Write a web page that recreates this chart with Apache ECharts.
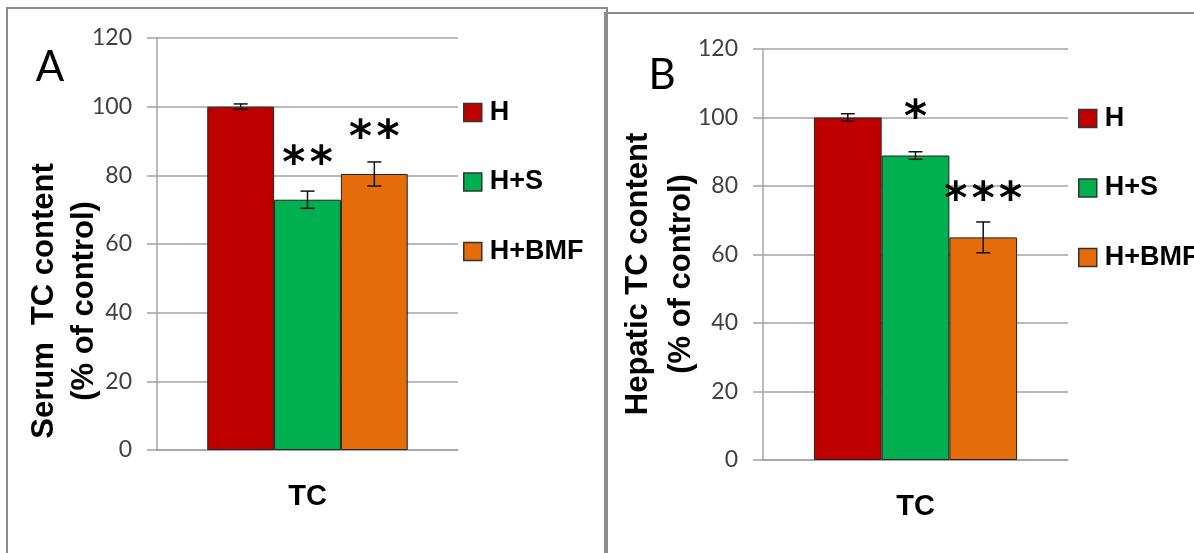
<!DOCTYPE html>
<html>
<head>
<meta charset="utf-8">
<script src="https://cdn.jsdelivr.net/npm/echarts@6/dist/echarts.min.js"></script>
<style>
  html, body { margin: 0; padding: 0; background: #ffffff; }
  #chart { width: 1194px; height: 553px; }
</style>
</head>
<body>
<div id="chart"></div>
<script>
// ---- data ----
const categories = ['TC'];
const seriesNames = ['H', 'H+S', 'H+BMF'];
const serumMeans = [100, 72.9, 80.4];
const serumErrors = [0.8, 2.5, 3.5];
const serumStars = ['', '*\u200A*', '*\u200A*'];
const hepaticMeans = [100, 88.9, 65.0];
const hepaticErrors = [1.1, 1.1, 4.5];
const hepaticStars = ['', '*', '*\u200A*\u200A*'];
const yMin = 0, yMax = 120, yStep = 20;
const panelLetters = ['A', 'B'];
const yTitles = ['Serum  TC content\n(% of control)', 'Hepatic TC content\n(% of control)'];

// ---- style ----
const colors = ['#C00000', '#00B050', '#E46C0A'];
const gridColor = '#a3a3a3';
const catGap = 0.334;

const chart = echarts.init(document.getElementById('chart'), null, { renderer: 'canvas' });

function yAxisDef(gridIndex) {
  return {
    type: 'value', gridIndex, min: yMin, max: yMax, interval: yStep,
    axisLine: { show: true, lineStyle: { color: gridColor, width: 1.5 } },
    axisTick: { show: true, inside: false, length: 10, lineStyle: { color: gridColor, width: 1.5 } },
    splitLine: { show: true, lineStyle: { color: gridColor, width: 1.5 } },
    axisLabel: { margin: 25, fontFamily: 'Lato', fontSize: 23, color: '#404040' }
  };
}
function xAxisDef(gridIndex) {
  return {
    type: 'category', gridIndex, data: categories,
    axisLine: { show: true, lineStyle: { color: gridColor, width: 1.5 } },
    axisTick: { show: false },
    axisLabel: { margin: 32, fontFamily: 'Liberation Sans', fontWeight: 'bold', fontSize: 29, color: '#000' }
  };
}
function barSeries(means, stars, axisIndex, dist) {
  return seriesNames.map((name, i) => ({
    type: 'bar', name, xAxisIndex: axisIndex, yAxisIndex: axisIndex,
    data: [means[i]],
    barGap: '0%', barCategoryGap: (catGap * 100) + '%',
    itemStyle: { color: colors[i], borderColor: '#222', borderWidth: 1 },
    label: {
      show: stars[i] !== '', position: 'top', distance: dist, formatter: stars[i] || ' ',
      fontFamily: 'DejaVu Sans', fontWeight: 'bold', fontSize: 44, color: '#000'
    },
    z: 2
  }));
}
function errSeries(means, errs, axisIndex) {
  return {
    type: 'custom', xAxisIndex: axisIndex, yAxisIndex: axisIndex, silent: true, z: 5,
    data: means.map((m, i) => [0, m, errs[i], i]),
    encode: { x: 0, y: 1 },
    renderItem: function (params, api) {
      const cat = api.value(0), m = api.value(1), e = api.value(2), i = api.value(3);
      const band = api.size([1, 0])[0];
      const bw = band * (1 - catGap) / 3;
      const cx = api.coord([cat, m])[0] + (i - 1) * bw;
      const yt = api.coord([cat, m + e])[1];
      const yb = api.coord([cat, m - e])[1];
      const hw = 7;
      const style = { stroke: '#111', lineWidth: 1.5 };
      return {
        type: 'group', children: [
          { type: 'line', shape: { x1: cx, y1: yt, x2: cx, y2: yb }, style },
          { type: 'line', shape: { x1: cx - hw, y1: yt, x2: cx + hw, y2: yt }, style },
          { type: 'line', shape: { x1: cx - hw, y1: yb, x2: cx + hw, y2: yb }, style }
        ]
      };
    }
  };
}
function legendDef(left, top) {
  return {
    orient: 'vertical', left, top, padding: 0, itemGap: 42.5,
    itemWidth: 18, itemHeight: 18, icon: 'rect', selectedMode: false,
    data: seriesNames,
    itemStyle: { borderColor: '#333', borderWidth: 1.5 },
    textStyle: { fontFamily: 'Liberation Sans', fontWeight: 'bold', fontSize: 27, lineHeight: 27, color: '#000', padding: [0, 0, 0, 3] }
  };
}

const option = {
  backgroundColor: '#ffffff',
  animation: false,
  grid: [
    { left: 157, top: 38, width: 301, height: 412 },
    { left: 763, top: 49, width: 305, height: 411 }
  ],
  xAxis: [xAxisDef(0), xAxisDef(1)],
  yAxis: [yAxisDef(0), yAxisDef(1)],
  legend: [legendDef(463, 99), legendDef(1078, 105)],
  series: [
    ...barSeries(serumMeans, serumStars, 0, 12),
    errSeries(serumMeans, serumErrors, 0),
    ...barSeries(hepaticMeans, hepaticStars, 1, 14),
    errSeries(hepaticMeans, hepaticErrors, 1)
  ],
  graphic: [
    { type: 'rect', shape: { x: 7, y: 8, width: 600, height: 700 }, style: { fill: 'none', stroke: '#8c8c8c', lineWidth: 2 }, z: 0 },
    { type: 'rect', shape: { x: 605, y: 13, width: 700, height: 700 }, style: { fill: 'none', stroke: '#8c8c8c', lineWidth: 2 }, z: 0 },
    { type: 'text', x: 50, y: 67, style: { text: panelLetters[0], fontFamily: 'Lato', fontSize: 42, fill: '#000', textAlign: 'center', textVerticalAlign: 'middle' } },
    { type: 'text', x: 662, y: 75, style: { text: panelLetters[1], fontFamily: 'Lato', fontSize: 42, fill: '#000', textAlign: 'center', textVerticalAlign: 'middle' } },
    { type: 'text', x: 64, y: 301, rotation: Math.PI / 2, style: { text: yTitles[0], fontFamily: 'Liberation Sans', fontWeight: 'bold', fontSize: 31, lineHeight: 40, fill: '#000', textAlign: 'center', textVerticalAlign: 'middle' } },
    { type: 'text', x: 660, y: 274, rotation: Math.PI / 2, style: { text: yTitles[1], fontFamily: 'Liberation Sans', fontWeight: 'bold', fontSize: 31, lineHeight: 43, fill: '#000', textAlign: 'center', textVerticalAlign: 'middle' } }
  ]
};
chart.setOption(option);
</script>
</body>
</html>
